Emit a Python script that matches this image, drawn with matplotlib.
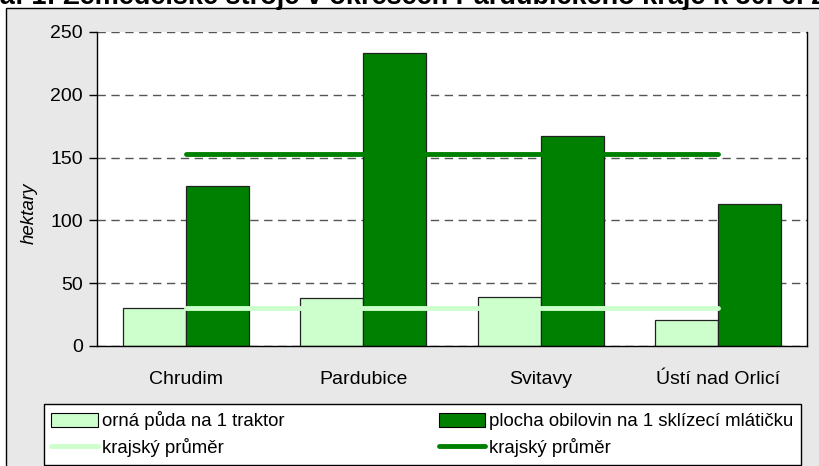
import matplotlib
matplotlib.use("Agg")
import matplotlib.pyplot as plt
from matplotlib.patches import Rectangle, Patch
from matplotlib.lines import Line2D
import numpy as np

plt.rcParams['font.family'] = ['Liberation Sans', 'DejaVu Sans']

title = "Graf 1: Zemědělské stroje v okresech Pardubického kraje k 30. 6. 2008"
categories = ["Chrudim", "Pardubice", "Svitavy", "Ústí nad Orlicí"]
orna_puda = [30, 38, 39, 21]
plocha_obilovin = [127, 233, 167, 113]
prumer_orna = 30
prumer_obiloviny = 153
yticks = [0, 50, 100, 150, 200, 250]

LIGHT = "#ccffcc"
DARK = "#008000"

W, H = 820, 466
fig = plt.figure(figsize=(W / 100, H / 100), dpi=100, facecolor="white")

# outer grey panel with border
fig.patches.append(Rectangle((6 / W, -0.1), 1.2, 1.1 - 8 / H, transform=fig.transFigure,
                             facecolor="#e8e8e8", edgecolor="black", linewidth=1.0, zorder=-10))

# partially cut title
fig.text(-32 / W, 1 - 4 / H, title, fontsize=19.5, fontweight="bold", va="baseline", ha="left")

ax = fig.add_axes([97 / W, 1 - 346 / H, (807 - 97) / W, (346 - 32) / H])
ax.set_facecolor("white")

x = np.arange(len(categories))
bw = 0.355
ax.bar(x - bw / 2, orna_puda, width=bw, color=LIGHT, edgecolor="#222222", linewidth=0.9, zorder=2)
ax.bar(x + bw / 2, plocha_obilovin, width=bw, color=DARK, edgecolor="#222222", linewidth=0.9, zorder=2)

ax.plot([x[0], x[-1]], [prumer_orna] * 2, color=LIGHT, linewidth=3.5, solid_capstyle="round", zorder=3)
ax.plot([x[0], x[-1]], [prumer_obiloviny] * 2, color=DARK, linewidth=3.5, solid_capstyle="round", zorder=3)

ax.set_xlim(-0.5, len(categories) - 0.5)
ax.set_ylim(0, 250)
ax.set_yticks(yticks)
ax.set_xticks(x)
ax.set_xticklabels(categories, fontsize=14)
ax.tick_params(axis="x", length=0, pad=18)
ax.tick_params(axis="y", length=6, width=1, direction="out", labelsize=14, pad=4)
ax.yaxis.grid(True, linestyle=(0, (6, 4)), color="#555555", linewidth=1.0, zorder=1)
ax.set_axisbelow(True)
for s in ["left", "bottom", "right"]:
    ax.spines[s].set_color("black")
    ax.spines[s].set_linewidth(1.0)
ax.spines["top"].set_visible(False)
ax.set_ylabel("hektary", fontsize=13.5, style="italic")
ax.yaxis.set_label_coords((38 - 97) / 710, (346 - 213) / 314)

handles = [
    Patch(facecolor=LIGHT, edgecolor="black", linewidth=0.8),
    Line2D([], [], color=LIGHT, linewidth=3.5, solid_capstyle="round"),
    Patch(facecolor=DARK, edgecolor="black", linewidth=0.8),
    Line2D([], [], color=DARK, linewidth=3.5, solid_capstyle="round"),
]
labels = ["orná půda na 1 traktor", "krajský průměr",
          "plocha obilovin na 1 sklízecí mlátičku", "krajský průměr"]
leg = fig.legend(handles, labels, ncol=2, loc="upper left",
                 bbox_to_anchor=(44 / W, 1 - 404 / H), bbox_transform=fig.transFigure,
                 fontsize=13.4, frameon=True, fancybox=False, edgecolor="black",
                 handlelength=2.5, handleheight=0.8, handletextpad=0.2, columnspacing=8.3,
                 borderpad=0.4, borderaxespad=0, labelspacing=0.42)
leg.get_frame().set_linewidth(1.0)
leg.get_frame().set_facecolor("white")
leg.get_frame().set_alpha(1.0)

fig.savefig("out.png", dpi=100, facecolor=fig.get_facecolor())
